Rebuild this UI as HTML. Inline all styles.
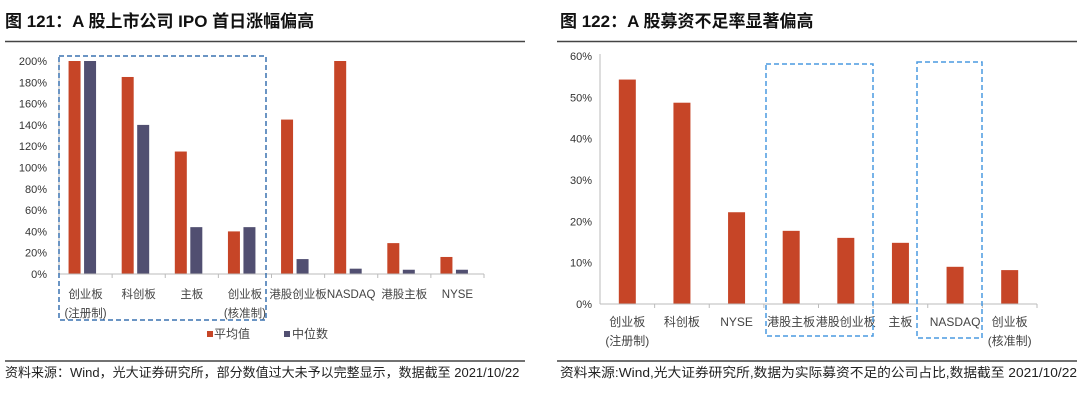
<!DOCTYPE html>
<html><head><meta charset="utf-8"><style>
html,body{margin:0;padding:0;background:#fff;width:1080px;height:408px;overflow:hidden}
svg{display:block;font-family:"Liberation Sans","Noto Sans CJK SC",sans-serif}
</style></head><body>
<svg id="s" width="1080" height="408">
<text x="5" y="27" font-size="17" font-weight="bold" fill="#111">图 121：A 股上市公司 IPO 首日涨幅偏高</text>
<text x="560" y="27" font-size="17" font-weight="bold" fill="#111">图 122：A 股募资不足率显著偏高</text>
<line x1="5" y1="41.5" x2="525" y2="41.5" stroke="#444" stroke-width="1.5"/>
<line x1="557" y1="41.5" x2="1077" y2="41.5" stroke="#444" stroke-width="1.5"/>
<line x1="5" y1="361" x2="525" y2="361" stroke="#444" stroke-width="1.5"/>
<line x1="557" y1="361" x2="1077" y2="361" stroke="#444" stroke-width="1.5"/>
<text x="5" y="377" font-size="13" fill="#222">资料来源：Wind，光大证券研究所，部分数值过大未予以完整显示，数据截至 2021/10/22</text>
<text x="560" y="377" font-size="13" fill="#222" textLength="517" lengthAdjust="spacingAndGlyphs">资料来源:Wind,光大证券研究所,数据为实际募资不足的公司占比,数据截至 2021/10/22</text>
<g id="L"></g>
<g id="R"></g>
</svg>
<script>
const leftCats=[["创业板","(注册制)"],["科创板"],["主板"],["创业板","(核准制)"],["港股创业板"],["NASDAQ"],["港股主板"],["NYSE"]];
const leftMean=[200,185,115,40,145,200,29,16];
const leftMedian=[200,140,44,44,14,5,4,4];
const leftTicks=[0,20,40,60,80,100,120,140,160,180,200];
const rightCats=[["创业板","(注册制)"],["科创板"],["NYSE"],["港股主板"],["港股创业板"],["主板"],["NASDAQ"],["创业板","(核准制)"]];
const rightVals=[54.3,48.7,22.2,17.7,16,14.8,9,8.2];
const rightTicks=[0,10,20,30,40,50,60];
const NS="http://www.w3.org/2000/svg";
function mk(p,t,a,txt){const e=document.createElementNS(NS,t);for(const k in a)e.setAttribute(k,a[k]);if(txt!=null)e.textContent=txt;p.appendChild(e);return e;}
const RED="#c64527",NAVY="#514f71";
// left
(function(){
const g=document.getElementById('L');
const x0=59,x1=484,y0=274,yT=61,max=200,step=(x1-x0)/leftCats.length;
const ys=v=>y0-(v/max)*(y0-yT);
leftTicks.forEach(t=>{const e=mk(g,'text',{x:x0-12,y:ys(t)+4,'font-size':11,'text-anchor':'end',fill:'#333'},t+'%');

});
leftCats.forEach((c,i)=>{const cx=x0+step*(i+0.5);
const b1=mk(g,'rect',{x:cx-17,y:ys(leftMean[i]),width:12,height:y0-ys(leftMean[i]),fill:RED});


const b2=mk(g,'rect',{x:cx-1.5,y:ys(leftMedian[i]),width:12,height:y0-ys(leftMedian[i]),fill:NAVY});


c.forEach((s,j)=>{const e=mk(g,'text',{x:cx,y:y0+24+j*19,'font-size':11.5,'text-anchor':'middle',fill:'#444'},s);

});
mk(g,'line',{x1:x0+step*(i+1),y1:y0,x2:x0+step*(i+1),y2:y0+4,stroke:'#bbb'});
});
mk(g,'line',{x1:x0,y1:yT,x2:x0,y2:y0,stroke:'#bbb'});
mk(g,'line',{x1:x0,y1:y0,x2:x1,y2:y0,stroke:'#bbb'});
const box=mk(g,'rect',{x:59,y:56,width:207,height:264,fill:'none',stroke:'#3a72b0','stroke-width':1.5,'stroke-dasharray':'5,3'});


const l1=mk(g,'rect',{x:207,y:331,width:6,height:6,fill:RED});


const t1=mk(g,'text',{x:214,y:338,'font-size':12,fill:'#444'},'平均值');


const l2=mk(g,'rect',{x:284,y:331,width:6,height:6,fill:NAVY});


const t2=mk(g,'text',{x:292,y:338,'font-size':12,fill:'#444'},'中位数');


})();
// right
(function(){
const g=document.getElementById('R');
const x0=600,x1=1037,y0=304,yT=56,max=60,step=(x1-x0)/rightCats.length;
const ys=v=>y0-(v/max)*(y0-yT);
rightTicks.forEach(t=>{const e=mk(g,'text',{x:x0-8,y:ys(t)+4,'font-size':11,'text-anchor':'end',fill:'#333'},t+'%');

});
rightCats.forEach((c,i)=>{const cx=x0+step*(i+0.5);
const b=mk(g,'rect',{x:cx-8.5,y:ys(rightVals[i]),width:17,height:y0-ys(rightVals[i]),fill:RED});


c.forEach((s,j)=>{const e=mk(g,'text',{x:cx,y:y0+22+j*19,'font-size':12,'text-anchor':'middle',fill:'#444'},s);

});
mk(g,'line',{x1:x0+step*(i+1),y1:y0,x2:x0+step*(i+1),y2:y0+4,stroke:'#bbb'});
});
mk(g,'line',{x1:x0,y1:yT-2,x2:x0,y2:y0,stroke:'#bbb'});
mk(g,'line',{x1:x0,y1:y0,x2:x1,y2:y0,stroke:'#bbb'});
const b1=mk(g,'rect',{x:766,y:64,width:107,height:272,fill:'none',stroke:'#4a9ae0','stroke-width':1.5,'stroke-dasharray':'5,3'});


const b2=mk(g,'rect',{x:917,y:62,width:65,height:276,fill:'none',stroke:'#4a9ae0','stroke-width':1.5,'stroke-dasharray':'5,3'});


})();
</script>
</body></html>
